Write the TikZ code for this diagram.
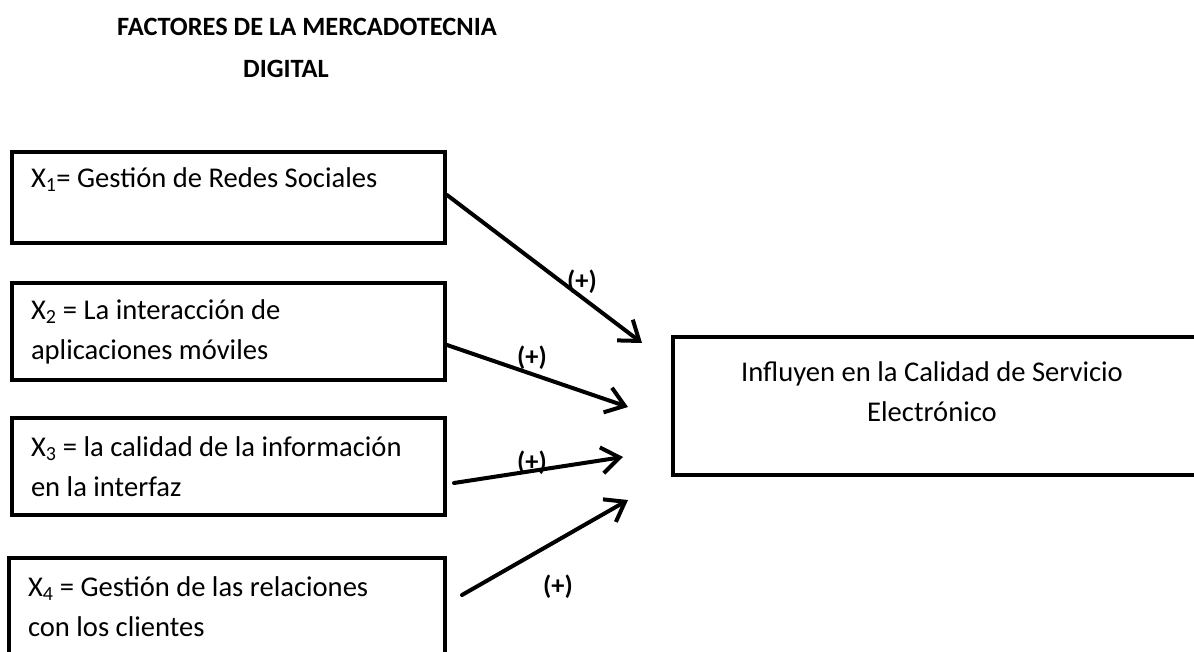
\documentclass[tikz,border=0pt]{standalone}
\usepackage{fontspec}
\setmainfont{Carlito}
\usepackage{tikz}
\usetikzlibrary{positioning}
\usetikzlibrary{arrows.meta}

\begin{document}
\begin{tikzpicture}[x=1pt,y=-1pt]
	\useasboundingbox (0,0) rectangle (1194,652);

	\begin{scope}[every node/.style={font=\fontsize{26.4}{40}\selectfont\bfseries}]
	    \node (T1) at (307,27) {FACTORES DE LA MERCADOTECNIA};
	    \node (T2) at (286,69) {DIGITAL};
	\end{scope}

	\begin{scope}[every node/.style={draw,line width=4pt,rectangle,align=flush left,
	              text width=395pt,inner xsep=19pt,minimum height=97pt,
	              font=\fontsize{28.6}{40}\selectfont}]
	    \node[minimum height=91pt] (X1) at (228.5,197.5) {X\textsubscript{1}= Gestión de Redes Sociales\\ \mbox{}};
	    \node (X2) at (228.5,331.5) {X\textsubscript{2} = La interacción de\\aplicaciones móviles};
	    \node (X3) at (228.5,466.5) {X\textsubscript{3} = la calidad de la información\\en la interfaz};
	    \node[text width=398pt] (X4) at (227,606.5) {X\textsubscript{4} = Gestión de las relaciones\\con los clientes};
	\end{scope}

	\node[draw,line width=4pt,minimum width=527pt,minimum height=138pt] (Y) at (936.5,406) {};
	\node[align=center,font=\fontsize{28.6}{40}\selectfont] (Ytext) at (932,392) {Influyen en la Calidad de Servicio\\Electrónico};

	\coordinate (t1) at (642,343);
	\coordinate (t2) at (628,407);
	\coordinate (t3) at (623,457);
	\coordinate (t4) at (628,500);

	\begin{scope}[>={Straight Barb[length=18pt,width=26pt]},
	              every edge/.style={draw=black,line width=4pt,line cap=round,line join=round}]
    	\path [->] ([yshift=2.5pt]X1.east) edge (t1);
    	\path [->] ([yshift=-13.5pt]X2.east) edge (t2);
    	\path [->] ([xshift=7pt,yshift=-16.5pt]X3.east) edge (t3);
    	\path [->] ([xshift=15pt,yshift=11.5pt]X4.east) edge (t4);
	\end{scope}

	\begin{scope}[every node/.style={font=\fontsize{26.4}{30}\selectfont\bfseries}]
	    \node (p1) at (582,282) {(+)};
	    \node (p2) at (532,358) {(+)};
	    \node (p3) at (532,463) {(+)};
	    \node (p4) at (558,587) {(+)};
	\end{scope}
\end{tikzpicture}
\end{document}
